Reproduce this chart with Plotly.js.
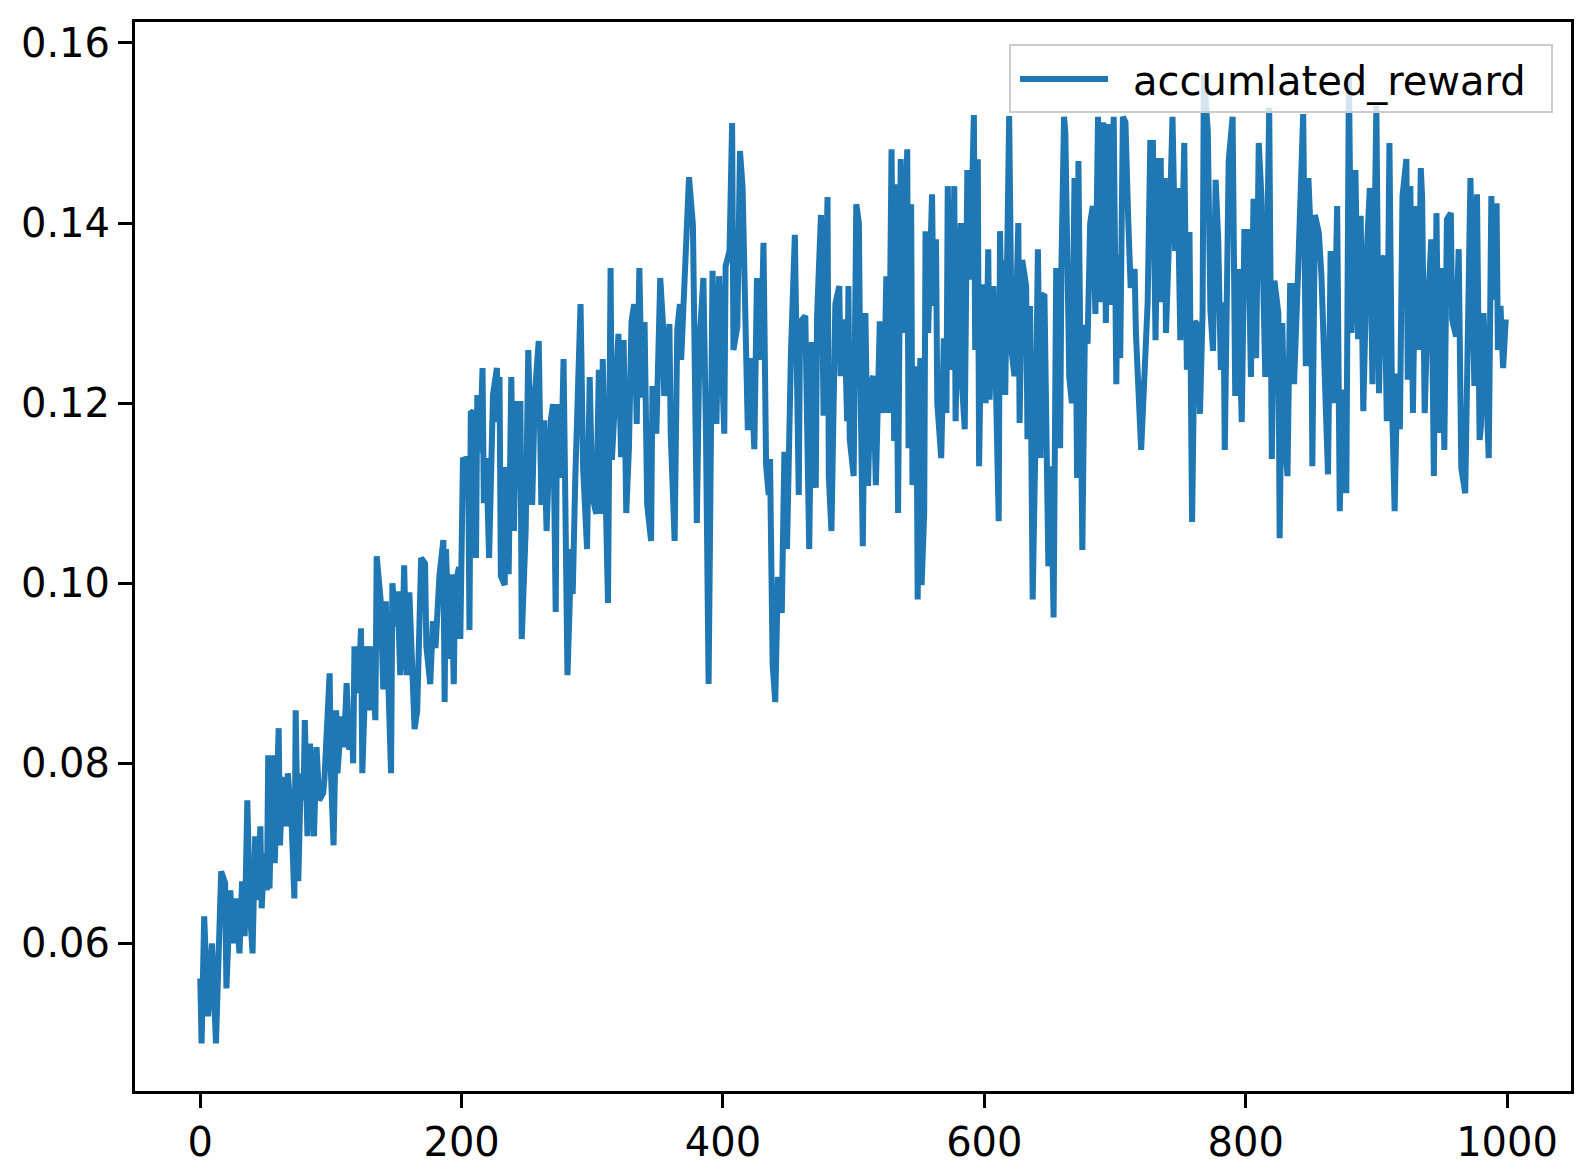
<!DOCTYPE html>
<html>
<head>
<meta charset="utf-8">
<script src="https://cdn.plot.ly/plotly-3.0.1.min.js"></script>
<style>
  html, body { margin: 0; padding: 0; background: #ffffff; }
  #chart { width: 1592px; height: 1176px; }
</style>
</head>
<body>
<div id="chart"></div>
<script>
// Series name (legend label, spelled as in the original)
const seriesName = "accumlated_reward";

// Episode index (x) and accumulated reward (y)
const episode = [
  0,1,3,6,9,12,16,19,20,23,25,27,30,32,34,36,38,40,42,44,46,47,49,51,52,53,55,57,60,61,
  63,66,67,70,72,73,75,77,79,80,82,84,87,89,91,94,95,97,99,100,102,104,105,108,110,112,114,116,117,118,
  121,123,124,126,127,130,131,134,135,138,140,142,144,146,147,150,151,153,155,156,158,160,164,166,169,172,173,176,178,180,
  183,186,187,188,191,192,194,195,198,199,201,205,206,207,209,211,212,214,216,217,219,221,224,227,228,229,230,233,234,236,
  238,240,242,245,246,249,251,254,256,259,261,263,265,268,270,272,273,276,278,281,284,285,287,290,291,293,296,298,300,303,
  305,307,308,312,314,315,320,322,324,326,328,330,332,334,336,338,340,342,345,346,349,352,354,355,359,360,363,365,367,368,
  371,374,377,380,382,385,387,389,392,395,397,401,402,405,407,408,411,413,415,417,419,421,424,426,429,431,433,435,436,438,
  440,442,445,447,449,452,455,458,459,463,466,468,471,472,475,477,480,481,483,486,489,490,493,495,496,497,500,502,504,505,
  507,509,511,513,515,517,520,523,525,527,529,531,532,534,536,538,541,542,544,545,548,549,551,552,554,555,557,560,561,563,
  564,567,569,571,572,575,577,578,580,582,583,585,587,589,592,593,595,596,598,601,603,604,607,609,611,612,614,615,616,619,
  621,623,626,627,629,632,633,635,637,639,641,643,644,646,648,649,651,653,655,658,659,661,662,665,667,669,671,672,675,677,
  679,681,683,685,687,689,691,693,695,696,699,701,702,704,706,708,710,712,715,716,720,723,725,727,729,731,733,735,736,738,
  739,742,744,746,748,750,753,755,757,759,761,763,765,767,768,771,773,775,777,779,781,783,784,787,790,792,794,797,799,802,
  804,806,808,810,812,815,818,820,822,825,826,828,830,832,834,836,837,840,844,846,848,850,851,853,856,858,863,865,867,870,
  872,874,877,879,881,884,886,888,890,893,895,897,900,902,904,906,908,910,912,914,916,918,920,923,924,926,928,930,932,934,
  935,937,939,942,944,946,948,950,952,954,957,958,961,963,965,968,970,972,975,977,979,980,982,986,988,990,992,993,995,997,
  999
];

const reward = [
  0.0561,0.0489,0.0630,0.0519,0.0600,0.0489,0.0680,0.0667,0.0550,0.0659,0.0600,0.0650,0.0589,0.0669,0.0608,0.0759,0.0637,0.0589,0.0719,0.0648,0.0730,0.0639,0.0700,0.0659,0.0809,0.0661,0.0809,0.0689,0.0839,0.0709,
  0.0785,0.0730,0.0789,0.0730,0.0650,0.0859,0.0669,0.0789,0.0759,0.0848,0.0719,0.0822,0.0719,0.0818,0.0759,0.0767,0.0782,0.0848,0.0900,0.0789,0.0709,0.0859,0.0789,0.0852,0.0818,0.0889,0.0815,0.0848,0.0800,0.0930,
  0.0878,0.0950,0.0789,0.0878,0.0930,0.0859,0.0930,0.0848,0.1030,0.0982,0.0882,0.0980,0.0882,0.0789,0.1000,0.0952,0.0991,0.0898,0.0952,0.1020,0.0898,0.0990,0.0838,0.0858,0.1028,0.1022,0.0930,0.0888,0.0958,0.0928,
  0.1008,0.1048,0.0868,0.1038,0.0916,0.1010,0.0888,0.0998,0.1018,0.0938,0.1137,0.1139,0.0948,0.1189,0.1191,0.1028,0.1209,0.1145,0.1239,0.1089,0.1139,0.1028,0.1209,0.1239,0.1179,0.1229,0.1008,0.0998,0.1129,0.1010,
  0.1229,0.1058,0.1199,0.1199,0.0938,0.1058,0.1259,0.1087,0.1209,0.1269,0.1087,0.1181,0.1058,0.1179,0.1199,0.0968,0.1199,0.1117,0.1249,0.0898,0.1038,0.0988,0.1117,0.1249,0.1310,0.1127,0.1038,0.1229,0.1097,0.1077,
  0.1237,0.1077,0.1249,0.0978,0.1350,0.1137,0.1277,0.1140,0.1270,0.1078,0.1149,0.1290,0.1310,0.1177,0.1350,0.1206,0.1290,0.1087,0.1047,0.1219,0.1166,0.1339,0.1290,0.1208,0.1288,0.1166,0.1047,0.1281,0.1310,0.1248,
  0.1347,0.1451,0.1398,0.1067,0.1268,0.1339,0.1166,0.0888,0.1347,0.1177,0.1341,0.1166,0.1352,0.1369,0.1511,0.1259,0.1285,0.1480,0.1440,0.1259,0.1170,0.1250,0.1149,0.1339,0.1248,0.1378,0.1131,0.1098,0.1138,0.0910,
  0.0868,0.1007,0.0967,0.1146,0.1038,0.1255,0.1387,0.1098,0.1290,0.1297,0.1038,0.1268,0.1106,0.1297,0.1409,0.1186,0.1429,0.1118,0.1058,0.1310,0.1330,0.1230,0.1293,0.1180,0.1330,0.1160,0.1119,0.1421,0.1400,0.1245,
  0.1041,0.1300,0.1108,0.1222,0.1230,0.1109,0.1291,0.1189,0.1341,0.1189,0.1482,0.1158,0.1443,0.1078,0.1471,0.1278,0.1482,0.1150,0.1421,0.1109,0.1241,0.0982,0.1250,0.0998,0.1078,0.1391,0.1278,0.1432,0.1308,0.1382,
  0.1200,0.1139,0.1272,0.1189,0.1441,0.1237,0.1441,0.1180,0.1341,0.1400,0.1219,0.1171,0.1459,0.1337,0.1520,0.1259,0.1471,0.1130,0.1332,0.1200,0.1371,0.1204,0.1330,0.1211,0.1069,0.1391,0.1241,0.1359,0.1209,0.1519,
  0.1256,0.1230,0.1400,0.1178,0.1359,0.1330,0.1160,0.1308,0.0982,0.1148,0.1371,0.1139,0.1319,0.1321,0.1059,0.1019,0.1130,0.0962,0.1350,0.1150,0.1352,0.1518,0.1500,0.1229,0.1200,0.1450,0.1117,0.1469,0.1037,0.1287,
  0.1266,0.1400,0.1419,0.1299,0.1518,0.1312,0.1512,0.1289,0.1510,0.1309,0.1518,0.1221,0.1365,0.1250,0.1518,0.1512,0.1409,0.1328,0.1349,0.1278,0.1148,0.1246,0.1312,0.1489,0.1489,0.1270,0.1469,0.1469,0.1312,0.1450,
  0.1278,0.1411,0.1518,0.1369,0.1439,0.1270,0.1489,0.1237,0.1390,0.1068,0.1291,0.1287,0.1188,0.1299,0.1565,0.1502,0.1303,0.1258,0.1448,0.1381,0.1237,0.1312,0.1148,0.1469,0.1518,0.1208,0.1349,0.1179,0.1390,0.1390,
  0.1229,0.1427,0.1250,0.1489,0.1431,0.1229,0.1528,0.1138,0.1336,0.1300,0.1050,0.1289,0.1159,0.1119,0.1330,0.1330,0.1221,0.1341,0.1521,0.1241,0.1450,0.1378,0.1130,0.1409,0.1389,0.1341,0.1121,0.1369,0.1200,0.1419,
  0.1080,0.1215,0.1100,0.1565,0.1278,0.1459,0.1271,0.1408,0.1191,0.1378,0.1439,0.1221,0.1530,0.1211,0.1359,0.1363,0.1180,0.1489,0.1200,0.1080,0.1233,0.1171,0.1430,0.1471,0.1226,0.1441,0.1189,0.1419,0.1259,0.1461,
  0.1430,0.1189,0.1293,0.1382,0.1119,0.1411,0.1167,0.1350,0.1148,0.1404,0.1411,0.1293,0.1274,0.1371,0.1128,0.1100,0.1341,0.1450,0.1219,0.1432,0.1159,0.1174,0.1300,0.1139,0.1430,0.1315,0.1422,0.1259,0.1308,0.1239,
  0.1293
];

// Tick values and labels
const xTicks = [0, 200, 400, 600, 800, 1000];
const xTickText = ["0", "200", "400", "600", "800", "1000"];
const yTicks = [0.06, 0.08, 0.10, 0.12, 0.14, 0.16];
const yTickText = ["0.06", "0.08", "0.10", "0.12", "0.14", "0.16"];

const FONT = "DejaVu Sans, Liberation Sans, sans-serif";

const trace = {
  x: episode,
  y: reward,
  type: "scatter",
  mode: "lines",
  // en spaces pad the legend label (gap after the line sample, right margin of the box)
  name: "\u2002" + seriesName + "\u2002",
  line: { color: "#1f77b4", width: 6 }
};

const layout = {
  width: 1592,
  height: 1176,
  margin: { l: 135, r: 21, t: 22, b: 85, pad: 0 },
  paper_bgcolor: "#ffffff",
  plot_bgcolor: "#ffffff",
  font: { family: FONT, size: 40, color: "#000000" },
  showlegend: true,
  legend: {
    x: 0.9875, xanchor: "right",
    y: 0.979, yanchor: "top",
    bgcolor: "rgba(255,255,255,0.8)",
    bordercolor: "#cccccc",
    borderwidth: 2,
    font: { family: FONT, size: 40, color: "#000000" },
    itemwidth: 88,
    indentation: 4
  },
  xaxis: {
    range: [-49.95, 1048.95],
    tickmode: "array",
    tickvals: xTicks,
    ticktext: xTickText,
    ticks: "outside",
    ticklen: 14,
    tickwidth: 3,
    tickcolor: "#000000",
    showline: true,
    linecolor: "#000000",
    linewidth: 3,
    mirror: true,
    showgrid: false,
    zeroline: false,
    tickfont: { family: FONT, size: 40, color: "#000000" }
  },
  yaxis: {
    range: [0.04361, 0.16233],
    tickmode: "array",
    tickvals: yTicks,
    ticktext: yTickText,
    ticks: "outside",
    ticklen: 14,
    tickwidth: 3,
    tickcolor: "#000000",
    showline: true,
    linecolor: "#000000",
    linewidth: 3,
    mirror: true,
    showgrid: false,
    zeroline: false,
    tickfont: { family: FONT, size: 40, color: "#000000" }
  }
};

Plotly.newPlot("chart", [trace], layout, { staticPlot: true, displayModeBar: false });
</script>
</body>
</html>
